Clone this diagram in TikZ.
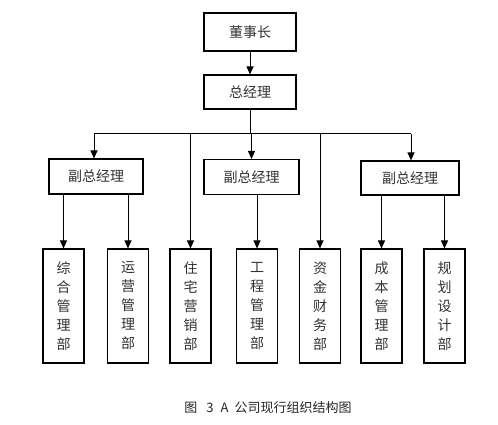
\documentclass[tikz,border=0pt]{standalone}
\usepackage{fontspec}
\setmainfont{Noto Sans CJK SC}
\usetikzlibrary{positioning,arrows.meta}
\tikzset{
  orgbox/.style={draw, line width=1.1pt, fill=white, text=black!80,
    font=\fontsize{14}{16}\selectfont, inner sep=0pt,
    align=center, minimum width=93pt, minimum height=35pt},
  deptbox/.style={draw, line width=1.1pt, fill=white, text=black!80,
    font=\fontsize{14}{19}\selectfont, inner sep=0pt,
    align=center, minimum width=41pt, minimum height=114pt},
  orgarr/.style={-{Triangle[length=8pt,width=7pt]}, line width=1pt},
  orgline/.style={line width=1pt},
}
\begin{document}
\begin{tikzpicture}[x=1pt, y=-1pt]
  \useasboundingbox (0,0) rectangle (498,425);
  % Row 0
  \node[orgbox, minimum width=92pt, minimum height=38pt] at (250,32) (chair) {董事长};
  % Row 1
  \node[orgbox, minimum width=92pt, minimum height=34pt] at (250,92) (gm) {总经理};
  % bus line
  \coordinate (busL) at (94,134);
  \coordinate (busR) at (411,134);
  \coordinate (busM) at (250,134);
  % Row 2
  \node[orgbox, minimum width=94pt] at (96,176.5) (vp1) {副总经理};
  \node[orgbox, minimum width=95pt] at (251.5,177) (vp2) {副总经理};
  \node[orgbox, minimum width=98pt, minimum height=34pt] at (410,178) (vp3) {副总经理};
  % Row 3
  \node[deptbox] at (63.5,306) (zh) {综\\合\\管\\理\\部};
  \node[deptbox] at (128,306) (yy) {运\\营\\管\\理\\部};
  \node[deptbox] at (190.5,306) (zz) {住\\宅\\营\\销\\部};
  \node[deptbox] at (257,306) (gc) {工\\程\\管\\理\\部};
  \node[deptbox] at (320,306) (zj) {资\\金\\财\\务\\部};
  \node[deptbox] at (381.5,306) (cb) {成\\本\\管\\理\\部};
  \node[deptbox] at (444.5,306) (gh) {规\\划\\设\\计\\部};
  % Caption
  \node[font=\fontsize{13}{15}\selectfont, text=black!85] at (268,408) (cap)
    {图\hspace{9pt}3\hspace{7pt}A\hspace{6pt}公司现行组织结构图};
  % Edges
  \draw[orgarr] (chair) -- (gm);
  \draw[orgline] (gm) -- (busM);
  \draw[orgline] (busL) -- (busR);
  \draw[orgarr] (busL) -- (busL |- vp1.north);
  \draw[orgarr] (busM -| vp2.north) -- (vp2);
  \draw[orgarr] (busR) -- (busR |- vp3.north);
  \draw[orgarr] (busL -| zz.north) -- (zz);
  \draw[orgarr] (busL -| zj.north) -- (zj);
  \draw[orgarr] (vp1.south -| zh) -- (zh);
  \draw[orgarr] (vp1.south -| yy) -- (yy);
  \draw[orgarr] (vp2.south -| gc) -- (gc);
  \draw[orgarr] (vp3.south -| cb) -- (cb);
  \draw[orgarr] (vp3.south -| gh) -- (gh);
\end{tikzpicture}
\end{document}
